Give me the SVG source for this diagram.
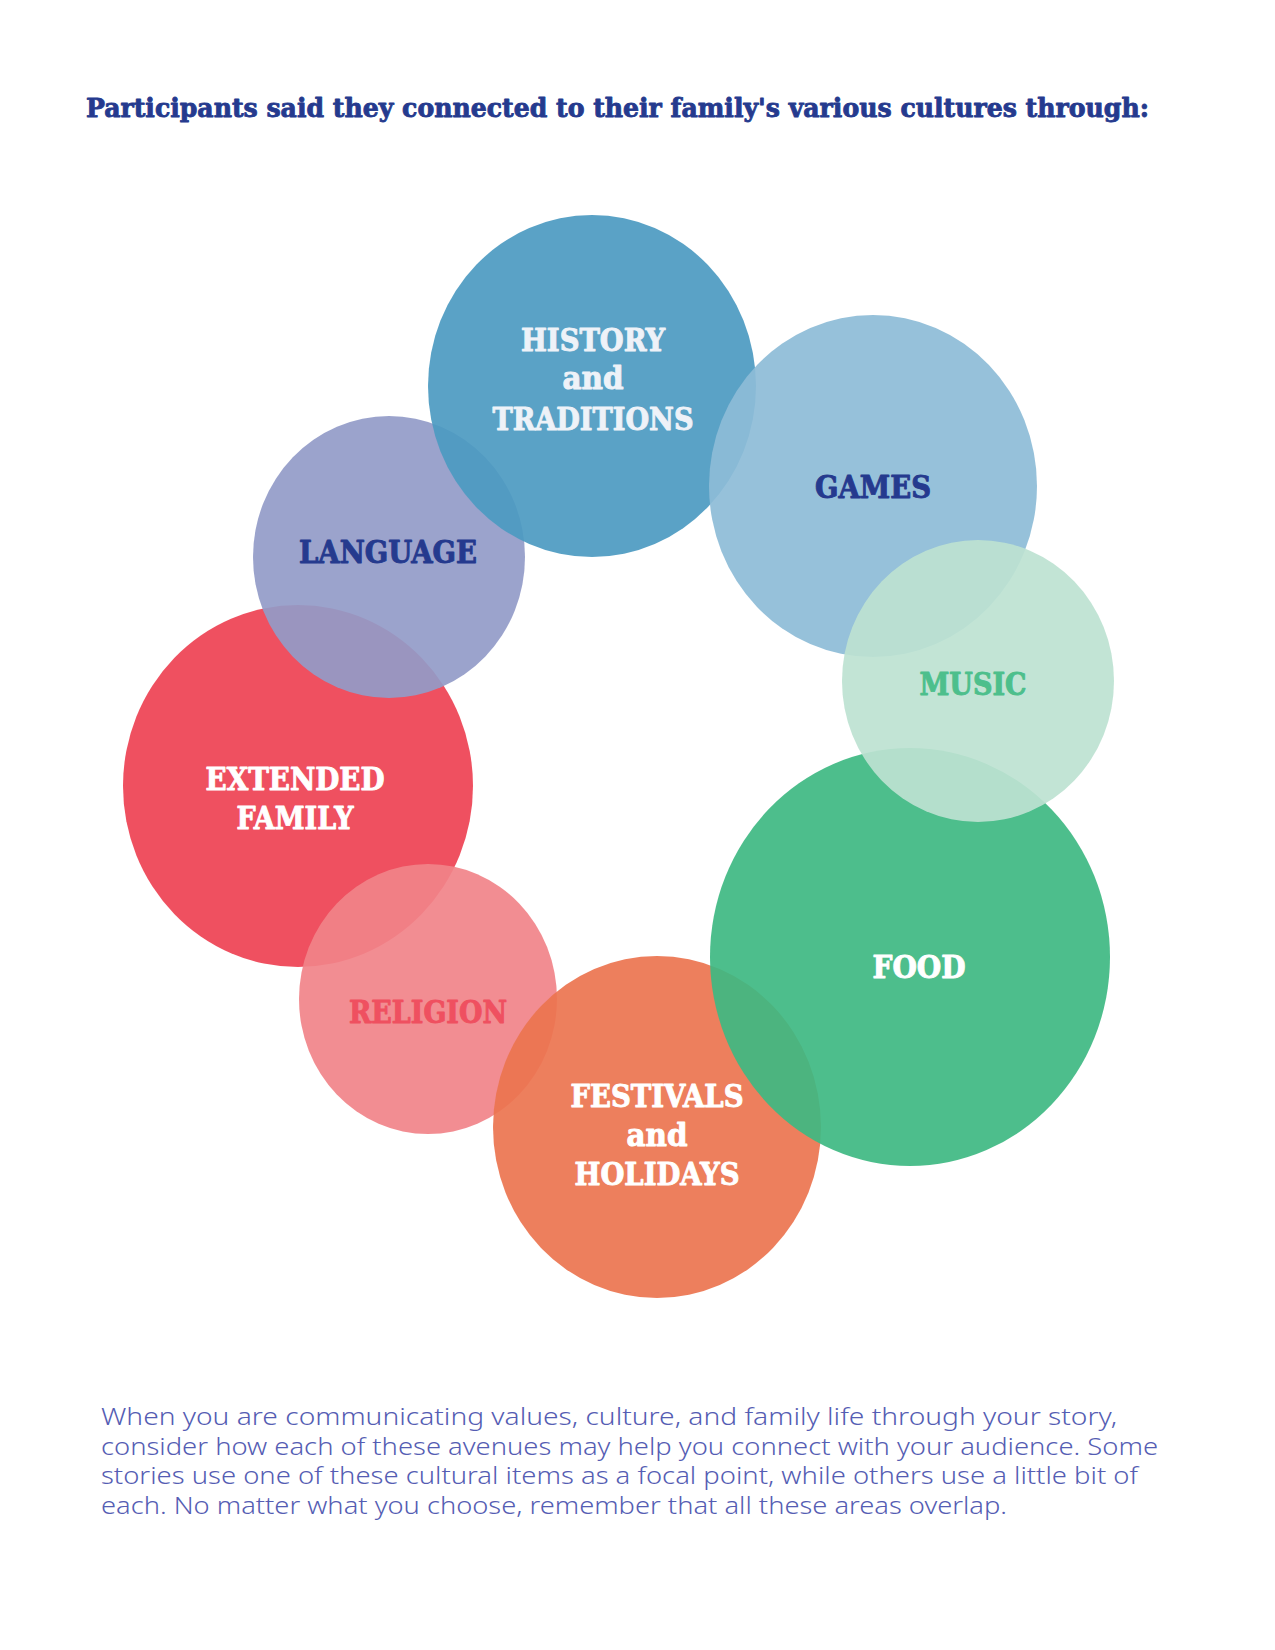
<svg xmlns="http://www.w3.org/2000/svg" width="1275" height="1650" viewBox="0 0 1275 1650">
<style>
.bub{fill-opacity:0.92}
.lbl{font-family:"DejaVu Serif Condensed","DejaVu Serif","Liberation Serif",serif;font-weight:bold;font-size:31px;text-anchor:middle;stroke-width:0.9px;stroke-linejoin:round}
.title{font-family:"DejaVu Serif Condensed","DejaVu Serif","Liberation Serif",serif;font-weight:bold;font-size:26px;fill:#253a8e;stroke:#253a8e;stroke-width:0.8px;stroke-linejoin:round}
.body{font-family:"Noto Sans","Open Sans",sans-serif;font-weight:300;font-size:23px;fill:#555db3}
</style>
<rect width="1275" height="1650" fill="#ffffff"/>
<text class="title" x="86" y="117" textLength="1063" lengthAdjust="spacingAndGlyphs">Participants said they connected to their family's various cultures through:</text>
<g id="connectors"/>
<g id="node-extended-family">
<ellipse class="bub" cx="298" cy="786" rx="175" ry="181" fill="#ee4152"/>
<text class="lbl" x="295" y="790" fill="#ffffff" stroke="#ffffff" textLength="179" lengthAdjust="spacingAndGlyphs">EXTENDED</text>
<text class="lbl" x="295" y="829" fill="#ffffff" stroke="#ffffff" textLength="117" lengthAdjust="spacingAndGlyphs">FAMILY</text>
</g>
<g id="node-religion">
<ellipse class="bub" cx="428" cy="999" rx="129" ry="135" fill="#f18389"/>
<text class="lbl" x="428" y="1023" fill="#ef5060" stroke="#ef5060" textLength="158" lengthAdjust="spacingAndGlyphs">RELIGION</text>
</g>
<g id="node-festivals">
<ellipse class="bub" cx="657" cy="1127" rx="164" ry="171" fill="#ec744f"/>
<text class="lbl" x="657" y="1107" fill="#ffffff" stroke="#ffffff" textLength="173" lengthAdjust="spacingAndGlyphs">FESTIVALS</text>
<text class="lbl" x="657" y="1146" fill="#ffffff" stroke="#ffffff" textLength="61" lengthAdjust="spacingAndGlyphs">and</text>
<text class="lbl" x="657" y="1185" fill="#ffffff" stroke="#ffffff" textLength="165" lengthAdjust="spacingAndGlyphs">HOLIDAYS</text>
</g>
<g id="node-food">
<ellipse class="bub" cx="910" cy="957" rx="200" ry="209" fill="#3eb982"/>
<text class="lbl" x="919" y="978" fill="#ffffff" stroke="#ffffff" textLength="93" lengthAdjust="spacingAndGlyphs">FOOD</text>
</g>
<g id="node-language">
<ellipse class="bub" cx="389" cy="557" rx="136" ry="141" fill="#939bc8"/>
<text class="lbl" x="388" y="563" fill="#253a8e" stroke="#253a8e" textLength="178" lengthAdjust="spacingAndGlyphs">LANGUAGE</text>
</g>
<g id="node-history">
<ellipse class="bub" cx="592" cy="386" rx="164" ry="171" fill="#4c9ac1"/>
<text class="lbl" x="593" y="351" fill="#eef2f8" stroke="#eef2f8" textLength="144" lengthAdjust="spacingAndGlyphs">HISTORY</text>
<text class="lbl" x="593" y="389" fill="#eef2f8" stroke="#eef2f8" textLength="61" lengthAdjust="spacingAndGlyphs">and</text>
<text class="lbl" x="593" y="430" fill="#eef2f8" stroke="#eef2f8" textLength="201" lengthAdjust="spacingAndGlyphs">TRADITIONS</text>
</g>
<g id="node-games">
<ellipse class="bub" cx="873" cy="486" rx="164" ry="171" fill="#8dbcd7"/>
<text class="lbl" x="873" y="498" fill="#253a8e" stroke="#253a8e" textLength="116" lengthAdjust="spacingAndGlyphs">GAMES</text>
</g>
<g id="node-music">
<ellipse class="bub" cx="978" cy="681" rx="136" ry="141" fill="#bde2d1"/>
<text class="lbl" x="973" y="695" fill="#4dbf8c" stroke="#4dbf8c" textLength="107" lengthAdjust="spacingAndGlyphs">MUSIC</text>
</g>
<text class="body" x="101" y="1425" textLength="1016" lengthAdjust="spacingAndGlyphs">When you are communicating values, culture, and family life through your story,</text>
<text class="body" x="101" y="1455" textLength="1057" lengthAdjust="spacingAndGlyphs">consider how each of these avenues may help you connect with your audience. Some</text>
<text class="body" x="101" y="1484" textLength="1037" lengthAdjust="spacingAndGlyphs">stories use one of these cultural items as a focal point, while others use a little bit of</text>
<text class="body" x="101" y="1514" textLength="906" lengthAdjust="spacingAndGlyphs">each. No matter what you choose, remember that all these areas overlap.</text>
</svg>
